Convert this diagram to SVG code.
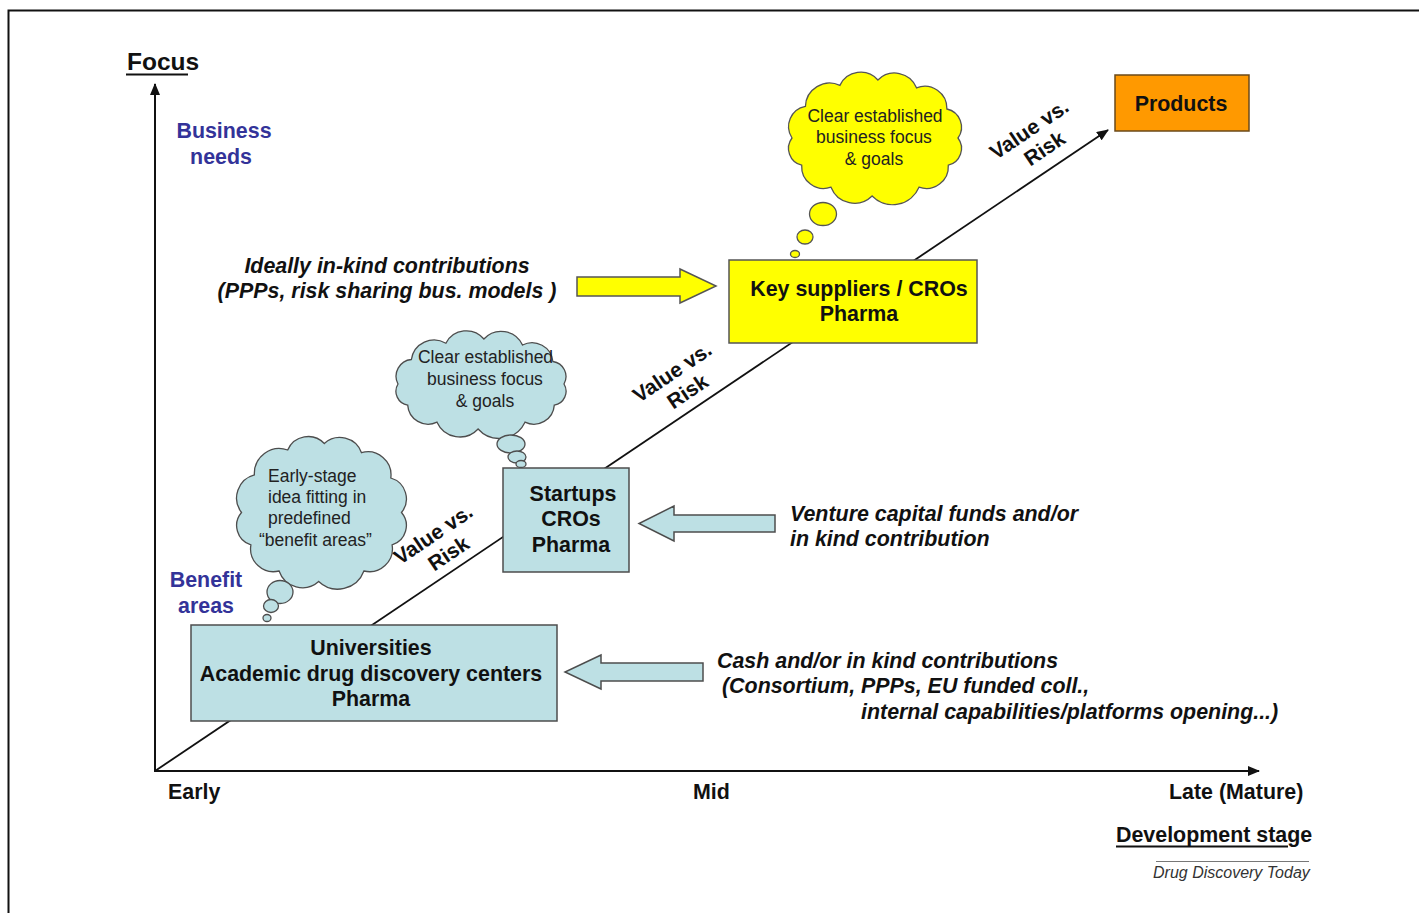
<svg xmlns="http://www.w3.org/2000/svg" width="1419" height="913" viewBox="0 0 1419 913">
<defs>
<style>
text{font-family:"Liberation Sans",Arial,sans-serif;fill:#111}
.b{font-weight:bold;font-size:21.4px}
.bi{font-weight:bold;font-style:italic;font-size:21.4px}
.blue{fill:#333399}
.c{font-size:17.5px;fill:#222}
.mid{text-anchor:middle}
.box-b{fill:#bde0e4;stroke:#4d4d4d;stroke-width:1.5}
.box-y{fill:#ffff00;stroke:#555;stroke-width:1.5}
.box-o{fill:#ff9900;stroke:#6b4a1a;stroke-width:1.5}
.cl-b{fill:#bde0e4;stroke:#4d4d4d;stroke-width:1.3}
.cl-y{fill:#ffff00;stroke:#555;stroke-width:1.3}
.axis{stroke:#111;stroke-width:2;fill:none}
.vr{font-weight:bold;font-size:21px;text-anchor:middle}
</style>
<marker id="ah" viewBox="0 0 12 10" refX="11" refY="5" markerWidth="12" markerHeight="10" markerUnits="userSpaceOnUse" orient="auto">
<path d="M0,0 L12,5 L0,10 Z" fill="#111"/>
</marker>
</defs>
<rect x="0" y="0" width="1419" height="913" fill="#fff"/>
<path d="M8.5,913 V10.5 H1419" fill="none" stroke="#111" stroke-width="2"/>

<g id="connectors">
<line class="axis" x1="155" y1="772" x2="155" y2="84" marker-end="url(#ah)"/>
<line class="axis" x1="154" y1="771" x2="1259" y2="771" marker-end="url(#ah)"/>
<line x1="155" y1="771" x2="1108" y2="130" stroke="#111" stroke-width="1.8" marker-end="url(#ah)"/>
<path id="arrow-inkind" d="M577,277 H680 V269 L716,286 L680,303 V296 H577 Z" fill="#ffff00" stroke="#555" stroke-width="1.5"/>
<path id="arrow-venture" d="M775,515 H674 V506 L639,523.5 L674,541 V532 H775 Z" class="box-b"/>
<path id="arrow-cash" d="M703,663 H601 V655 L565,672 L601,689 V681 H703 Z" class="box-b"/>
</g>

<g id="labels-axes">
<text class="b" x="127" y="70" style="font-size:24.5px">Focus</text>
<line x1="126" y1="74.5" x2="188" y2="74.5" stroke="#111" stroke-width="2"/>
<text class="b blue mid" x="224" y="138">Business</text>
<text class="b blue mid" x="221" y="164">needs</text>
<text class="b blue mid" x="206" y="587">Benefit</text>
<text class="b blue mid" x="206" y="613">areas</text>
<text class="b" x="168" y="799">Early</text>
<text class="b" x="693" y="799">Mid</text>
<text class="b" x="1169" y="799">Late (Mature)</text>
<text class="b" x="1116" y="842">Development stage</text>
<line x1="1116" y1="846.5" x2="1288" y2="846.5" stroke="#111" stroke-width="2"/>
<line x1="1156" y1="861.5" x2="1309" y2="861.5" stroke="#777" stroke-width="1"/>
<text x="1153" y="878" style="font-size:16px;font-style:italic;fill:#333">Drug Discovery Today</text>
</g>

<g id="value-risk-1" transform="translate(433,534) rotate(-34)">
<text class="vr" x="0" y="7.5">Value vs.</text>
<text class="vr" x="2" y="32">Risk</text>
</g>
<g id="value-risk-2" transform="translate(672,372) rotate(-34)">
<text class="vr" x="0" y="7.5">Value vs.</text>
<text class="vr" x="2" y="32">Risk</text>
</g>
<g id="value-risk-3" transform="translate(1029,129) rotate(-34)">
<text class="vr" x="0" y="7.5">Value vs.</text>
<text class="vr" x="2" y="32">Risk</text>
</g>

<g id="cloud-yellow">
<path class="cl-y" d="M792,138 A20.6,20.6 0 0 1 805.4,106.4 A24.2,24.2 0 0 1 839.9,85.4 A23,23 0 0 1 877.9,80 A23.6,23.6 0 0 1 916.5,87.8 A22.2,22.2 0 0 1 946.9,109 A18.6,18.6 0 0 1 958,138 A17.3,17.3 0 0 1 948.3,165.2 A22,22 0 0 1 919,187.2 A28.6,28.6 0 0 1 872.1,196 A25.2,25.2 0 0 1 831,187.2 A22,22 0 0 1 801.7,165.2 A17.3,17.3 0 0 1 792,138 Z"/>
<ellipse class="cl-y" cx="823" cy="214" rx="13.5" ry="11.5"/>
<ellipse class="cl-y" cx="805" cy="237" rx="8" ry="7"/>
<ellipse class="cl-y" cx="795" cy="254" rx="4.5" ry="3.5"/>
<text class="c mid" x="875" y="122">Clear established</text>
<text class="c mid" x="874" y="143">business focus</text>
<text class="c mid" x="874" y="165">&amp; goals</text>
</g>

<g id="cloud-blue-top">
<path class="cl-b" d="M398,384 A16.8,16.8 0 0 1 411.4,359.5 A23,23 0 0 1 445.9,343.2 A23,23 0 0 1 483.9,339 A23.5,23.5 0 0 1 522.5,345 A21,21 0 0 1 552.9,361.5 A15.2,15.2 0 0 1 564,384 A14,14 0 0 1 554.3,405.1 A20.5,20.5 0 0 1 525,422.2 A28.5,28.5 0 0 1 478.1,429 A25,25 0 0 1 437,422.2 A20.5,20.5 0 0 1 407.7,405.1 A14,14 0 0 1 398,384 Z"/>
<ellipse class="cl-b" cx="511" cy="444" rx="14" ry="9"/>
<ellipse class="cl-b" cx="517" cy="457" rx="9" ry="6"/>
<ellipse class="cl-b" cx="521" cy="464" rx="5" ry="3.5"/>
<text class="c mid" x="485.5" y="363">Clear established</text>
<text class="c mid" x="485" y="385">business focus</text>
<text class="c mid" x="485" y="407">&amp; goals</text>
</g>

<g id="cloud-blue-left">
<path class="cl-b" d="M241.5,512.5 A23.9,23.9 0 0 1 254.4,474.9 A25,25 0 0 1 287.7,450 A22.3,22.3 0 0 1 324.3,443.5 A23,23 0 0 1 361.5,452.7 A23.2,23.2 0 0 1 390.8,478 A21.7,21.7 0 0 1 401.5,512.5 A20.2,20.2 0 0 1 392.1,544.9 A23,23 0 0 1 363.9,571 A27.8,27.8 0 0 1 318.7,581.5 A24.6,24.6 0 0 1 279.1,571 A23,23 0 0 1 250.9,544.9 A20.2,20.2 0 0 1 241.5,512.5 Z"/>
<ellipse class="cl-b" cx="280" cy="592" rx="13" ry="11.5"/>
<ellipse class="cl-b" cx="271" cy="606" rx="7.5" ry="6.5"/>
<ellipse class="cl-b" cx="267" cy="618" rx="4" ry="3.5"/>
<text class="c" x="268" y="482">Early-stage</text>
<text class="c" x="268" y="503">idea fitting in</text>
<text class="c" x="268" y="524">predefined</text>
<text class="c" x="259" y="546">“benefit areas”</text>
</g>

<g id="node-universities">
<rect class="box-b" x="191" y="625" width="366" height="96"/>
<text class="b mid" x="371" y="655">Universities</text>
<text class="b mid" x="371" y="681">Academic drug discovery centers</text>
<text class="b mid" x="371" y="706">Pharma</text>
</g>

<g id="node-startups">
<rect class="box-b" x="503" y="468" width="126" height="104"/>
<text class="b mid" x="573" y="501">Startups</text>
<text class="b mid" x="571" y="526">CROs</text>
<text class="b mid" x="571" y="552">Pharma</text>
</g>

<g id="node-keysuppliers">
<rect class="box-y" x="729" y="260" width="248" height="83"/>
<text class="b mid" x="859" y="296">Key suppliers / CROs</text>
<text class="b mid" x="859" y="321">Pharma</text>
</g>

<g id="node-products">
<rect class="box-o" x="1115" y="75" width="134" height="56"/>
<text class="b mid" x="1181" y="111">Products</text>
</g>

<g id="text-inkind">
<text class="bi mid" x="387" y="273">Ideally in-kind contributions</text>
<text class="bi mid" x="387" y="298">(PPPs, risk sharing bus. models )</text>
</g>
<g id="text-venture">
<text class="bi" x="790" y="521">Venture capital funds and/or</text>
<text class="bi" x="790" y="546">in kind contribution</text>
</g>
<g id="text-cash">
<text class="bi" x="717" y="668">Cash and/or in kind contributions</text>
<text class="bi" x="722" y="693">(Consortium, PPPs, EU funded coll.,</text>
<text class="bi" x="861" y="719">internal capabilities/platforms opening...)</text>
</g>
</svg>
